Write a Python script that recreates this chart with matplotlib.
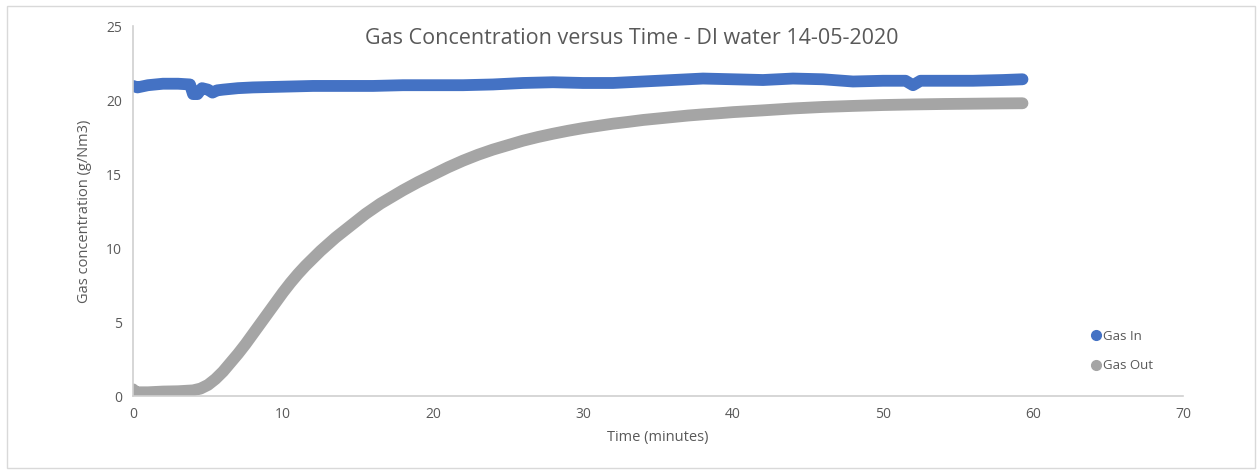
import matplotlib.pyplot as plt
from matplotlib.lines import Line2D
from matplotlib.patches import Rectangle

# Gas In (g/Nm3)
t_in = [0, 0.3, 1, 2, 3, 3.8, 4.0, 4.3, 4.6, 5.0, 5.3, 5.6, 6, 7, 8, 10, 12, 14, 16,
        18, 20, 22, 24, 26, 28, 30, 32, 34, 36, 38, 40, 42, 44, 46, 48, 50, 51.5,
        52, 52.5, 54, 56, 58, 59.3]
gas_in = [20.95, 20.85, 21.0, 21.1, 21.1, 21.05, 20.4, 20.4, 20.8, 20.7, 20.5, 20.65,
          20.7, 20.8, 20.85, 20.9, 20.95, 20.95, 20.95, 21.0, 21.0, 21.0, 21.05, 21.15,
          21.2, 21.15, 21.15, 21.25, 21.35, 21.45, 21.4, 21.35, 21.45, 21.4, 21.25,
          21.3, 21.3, 21.0, 21.3, 21.3, 21.3, 21.35, 21.4]

# Gas Out (g/Nm3)
t_out = [0, 0.2, 1, 2, 3, 4, 4.5, 5, 5.5, 6, 6.5, 7, 7.5, 8, 8.5, 9, 9.5, 10, 10.5,
         11, 11.5, 12, 12.5, 13, 13.5, 14, 14.5, 15, 15.5, 16, 16.5, 17, 17.5, 18,
         19, 20, 21, 22, 23, 24, 25, 26, 27, 28, 29, 30, 31, 32, 33, 34, 35, 36, 37,
         38, 39, 40, 42, 44, 46, 48, 50, 52, 54, 56, 58, 59.3]
gas_out = [0.45, 0.25, 0.25, 0.3, 0.32, 0.38, 0.5, 0.75, 1.15, 1.65, 2.25, 2.85, 3.5,
           4.2, 4.9, 5.6, 6.3, 7.0, 7.65, 8.25, 8.8, 9.3, 9.8, 10.25, 10.7, 11.1,
           11.5, 11.9, 12.3, 12.65, 13.0, 13.3, 13.6, 13.9, 14.45, 14.95, 15.45, 15.9,
           16.3, 16.65, 16.95, 17.25, 17.5, 17.72, 17.92, 18.1, 18.25, 18.4, 18.52,
           18.65, 18.75, 18.85, 18.95, 19.03, 19.1, 19.18, 19.3, 19.43, 19.53, 19.6,
           19.66, 19.7, 19.73, 19.75, 19.77, 19.78]

x_ticks = [0, 10, 20, 30, 40, 50, 60, 70]
y_ticks = [0, 5, 10, 15, 20, 25]

blue = '#4472C4'
grey = '#A5A5A5'
txt = '#595959'
axcol = '#D0D0D0'

plt.rcParams['font.family'] = ['Open Sans', 'DejaVu Sans']

fig = plt.figure(figsize=(12.59, 4.71), dpi=100)
fig.patches.append(Rectangle((7 / 1259, 3 / 471), 1248 / 1259, 462 / 471,
                             transform=fig.transFigure, fill=False,
                             edgecolor='#D9D9D9', lw=1))
ax = fig.add_axes([133 / 1259, 1 - 396 / 471, 1050 / 1259, 370 / 471])

ax.plot(t_in, gas_in, '-', color=blue, lw=8.5, solid_capstyle='round',
        solid_joinstyle='round')
ax.plot(t_out, gas_out, '-', color=grey, lw=8.5, solid_capstyle='round',
        solid_joinstyle='round')

ax.set_xlim(0, 70)
ax.set_ylim(0, 25)
ax.set_xticks(x_ticks)
ax.set_yticks(y_ticks)
ax.tick_params(length=0, labelsize=10, colors=txt, pad=8)
for s in ['top', 'right']:
    ax.spines[s].set_visible(False)
for s in ['left', 'bottom']:
    ax.spines[s].set_color(axcol)
    ax.spines[s].set_linewidth(1.2)

ax.set_xlabel('Time (minutes)', fontsize=10.5, color=txt, labelpad=6)
ax.set_ylabel('Gas concentration (g/Nm3)', fontsize=10.5, color=txt, labelpad=10)
fig.text(632 / 1259, 1 - 38 / 471, 'Gas Concentration versus Time - DI water 14-05-2020',
         ha='center', va='center', fontsize=15.5, color=txt)

handles = [Line2D([], [], marker='o', ls='', color=blue, ms=7),
           Line2D([], [], marker='o', ls='', color=grey, ms=7)]
ax.legend(handles, ['Gas In', 'Gas Out'], loc='upper left',
          bbox_to_anchor=(1081 / 1259, 1 - 318 / 471), bbox_transform=fig.transFigure,
          frameon=False, handlelength=0.5, handletextpad=0.3, labelspacing=1.25,
          fontsize=9.5, labelcolor=txt)

fig.savefig('out.png', dpi=100)
